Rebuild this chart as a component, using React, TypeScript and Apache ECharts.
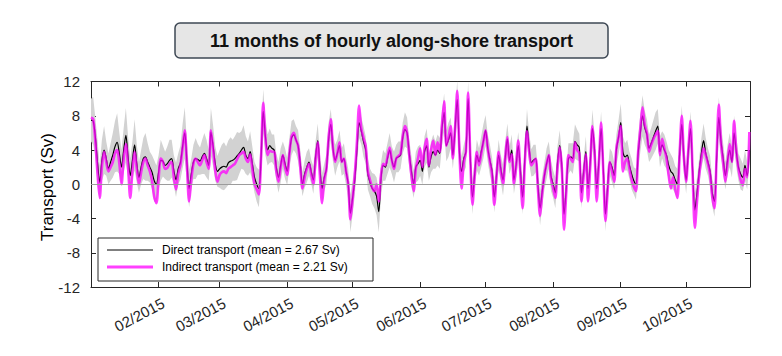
import React, { useEffect, useRef } from "react";
import * as echarts from "echarts";

// ---- data (day index 0 = 01 Jan 2015) ----
const X_MAX = 302.3;
const monthStartDays = [31, 59, 90, 120, 151, 181, 212, 243, 273];
const monthLabels = ["02/2015", "03/2015", "04/2015", "05/2015", "06/2015", "07/2015", "08/2015", "09/2015", "10/2015"];
const LABEL_SHIFT = 2.2;
const Y_MIN = -12;
const Y_MAX = 12;
const Y_STEP = 4;

const titleText = "11 months of hourly along-shore transport";
const yTitle = "Transport (Sv)";
const legendDirect = "Direct transport (mean = 2.67 Sv)";
const legendIndirect = "Indirect transport (mean = 2.21 Sv)";

const indirect = [
  7.8, 7.6, 5.0, 1.2, -1.6, 2.0, 3.8, 2.6, 1.5, 2.0,
  2.6, 3.6, 4.0, 2.4, 0.0, 3.0, 4.7, 2.0, -1.6, 1.5,
  3.8, 1.8, 0.0, 1.4, 2.6, 3.0, 2.2, 1.5, 0.4, -1.5,
  -2.2, 0.6, 3.0, 2.6, 1.8, 1.9, 2.4, 2.6, 0.8, -0.6,
  1.2, 2.2, 4.2, 6.3, 2.2, -2.0, 0.5, 2.4, 3.0, 2.6,
  2.2, 2.8, 3.4, 2.6, 1.8, 6.3, 4.2, 1.6, 0.3, 1.1,
  1.4, 1.5, 1.3, 1.8, 2.0, 2.2, 2.4, 2.9, 3.4, 3.6,
  3.8, 3.0, 2.6, 3.5, 1.8, 0.0, -0.6, -1.2, 3.0, 9.5,
  5.5, 3.4, 3.9, 3.8, 3.8, 1.5, 0.3, 2.0, 3.4, 2.0,
  1.1, 3.5, 5.6, 6.0, 5.2, 4.5, 2.0, -0.5, 0.8, 1.8,
  2.4, 1.2, 0.0, 2.8, 4.9, 1.0, -2.2, 0.5, 1.8, 5.5,
  7.6, 4.2, 2.6, 3.6, 4.9, 2.6, 3.0, 1.5, 0.0, -4.1,
  -1.8, 1.1, 5.0, 9.2, 6.5, 5.4, 4.5, 1.5, 0.5, -0.4,
  -0.8, 0.0, -2.0, 1.0, 2.4, 2.2, 3.2, 4.3, 2.8, 1.8,
  3.0, 3.3, 3.6, 5.6, 6.8, 6.0, 3.4, 1.0, -0.8, 1.8,
  3.0, 4.2, 2.0, 4.2, 5.3, 2.2, 4.0, 5.1, 3.4, 4.9,
  3.8, 7.0, 9.7, 4.5, 5.5, 6.8, 3.0, 6.5, 10.9, 3.8,
  -0.5, 2.5, 3.8, 10.7, 3.0, -2.4, 1.0, 3.8, 2.2, 3.5,
  5.0, 6.3, 4.2, 2.6, 1.1, -2.4, 0.8, 3.8, 1.5, 0.0,
  3.0, 5.5, 2.6, 3.5, 0.0, 2.0, 5.1, 1.0, -2.8, 2.5,
  6.2, 3.8, 2.2, 2.6, 3.0, -0.5, -3.7, -1.0, 1.1, 2.4,
  3.4, 0.7, -0.5, -1.6, 2.0, 4.3, 1.8, -5.3, -1.0, 3.4,
  3.0, 2.6, 4.9, 4.0, 3.6, -2.0, 1.0, 3.5, -2.0, 2.0,
  6.8, 3.8, -2.0, 2.5, 7.2, 1.5, -4.3, -0.8, 2.6, 1.5,
  0.3, 4.2, 5.5, 6.8, 1.5, 2.6, 3.0, 1.8, 0.5, -0.3,
  -0.8, 3.8, 6.5, 9.0, 7.0, 6.0, 3.8, 4.6, 5.3, 5.8,
  6.2, 3.4, 5.3, 4.2, 3.0, 1.0, -0.5, 0.8, -0.6, -1.6,
  3.5, 8.0, 3.0, 0.3, 4.0, 7.4, 1.1, -5.1, -2.0, 1.1,
  3.0, 4.2, 3.4, 2.4, 1.1, -1.5, -2.8, 3.5, 9.3, 4.9,
  2.5, 0.3, 2.5, 4.7, 2.6, 7.4, 4.0, 1.8, 0.5, -0.1,
  1.8, 0.8, 6.1,
];

const direct = [
  7.5, 7.4, 5.5, 2.5, 0.2, 2.8, 4.0, 3.0, 1.8, 2.6,
  3.4, 4.4, 4.9, 3.6, 2.0, 4.0, 5.7, 3.2, 1.0, 2.8,
  4.6, 2.4, 0.8, 2.0, 3.0, 3.2, 2.6, 2.0, 1.4, 0.4,
  0.0, 1.4, 2.8, 2.7, 2.2, 2.4, 2.8, 3.0, 1.6, 0.5,
  1.8, 2.5, 4.4, 6.0, 2.6, -0.5, 1.2, 2.6, 3.0, 2.9,
  2.7, 3.2, 3.6, 3.0, 2.2, 6.1, 4.5, 2.4, 1.5, 1.8,
  2.0, 2.1, 2.0, 2.5, 2.7, 2.8, 3.0, 3.3, 3.6, 4.0,
  4.3, 3.4, 3.0, 3.8, 2.4, 0.8, 0.0, -0.5, 3.0, 8.5,
  5.6, 4.0, 4.5, 4.2, 4.0, 2.0, 0.8, 2.2, 3.4, 2.4,
  1.5, 3.6, 5.4, 5.8, 5.2, 4.5, 2.4, 0.0, 1.2, 2.0,
  2.6, 1.5, 0.5, 3.2, 5.1, 2.0, -0.5, 0.8, 1.8, 5.2,
  7.0, 4.2, 2.8, 3.6, 4.5, 2.6, 3.0, 1.5, 0.0, -3.4,
  -1.6, 0.5, 4.0, 7.2, 6.2, 5.0, 4.0, 1.2, 0.2, -0.5,
  -0.8, -1.4, -3.2, 0.5, 2.2, 2.0, 3.0, 4.0, 2.8, 2.0,
  3.0, 3.2, 3.4, 5.4, 6.4, 6.0, 3.6, 1.5, 0.0, 2.0,
  2.4, 2.8, 1.5, 3.8, 4.5, 2.0, 3.2, 3.8, 3.4, 4.0,
  3.6, 6.5, 8.4, 4.5, 5.2, 6.0, 3.4, 6.5, 9.9, 3.8,
  1.5, 3.0, 3.8, 10.0, 3.0, -1.5, 1.2, 3.4, 2.6, 3.8,
  5.0, 6.3, 4.2, 2.8, 1.5, -1.5, 1.0, 3.4, 1.8, 0.5,
  3.0, 5.3, 2.8, 4.0, 0.5, 2.2, 4.5, 1.5, -1.5, 3.0,
  6.8, 4.2, 2.5, 2.8, 3.0, 0.0, -2.8, -0.8, 1.0, 2.4,
  3.4, 1.0, 0.0, -1.0, 2.5, 4.5, 2.0, -3.5, -0.5, 3.0,
  3.2, 3.0, 5.0, 4.6, 4.3, -1.0, 1.5, 3.8, -0.5, 2.5,
  6.5, 4.0, -0.5, 2.8, 6.5, 1.8, -3.5, -0.3, 2.6, 2.0,
  1.0, 4.0, 5.5, 7.2, 3.8, 3.2, 3.4, 2.2, 1.2, 0.4,
  0.0, 3.6, 6.0, 8.0, 6.6, 5.8, 4.2, 4.8, 5.5, 6.2,
  6.8, 3.8, 4.6, 4.0, 3.4, 2.2, 1.5, 1.2, 0.5, 0.0,
  3.5, 7.0, 3.0, 0.5, 3.8, 6.5, 1.5, -3.0, -1.0, 1.5,
  3.6, 5.1, 3.6, 2.6, 1.5, -1.0, -2.0, 3.0, 7.8, 5.0,
  3.0, 1.0, 2.8, 4.0, 2.6, 6.0, 3.8, 2.0, 1.2, 0.8,
  2.2, 1.0, 4.0,
];

// half-width of the grey spread band around the direct series (Sv)
const spread = [
  2.5, 2.8, 2.2, 2.6, 2.0, 2.4, 2.8, 2.0, 1.8, 2.2,
  2.6, 3.0, 3.4, 2.4, 2.0, 2.6, 3.2, 2.4, 2.0, 2.2,
  3.0, 2.2, 1.8, 2.0, 2.4, 2.8, 2.2, 1.8, 2.0, 2.4,
  2.2, 2.0, 2.4, 1.8, 1.6, 2.0, 2.4, 2.2, 1.8, 2.0,
  1.8, 2.0, 2.6, 3.0, 2.4, 2.2, 1.8, 2.0, 2.4, 1.8,
  1.6, 2.0, 2.4, 2.2, 1.8, 2.8, 2.4, 2.0, 1.8, 2.2,
  2.6, 2.8, 2.4, 2.6, 2.8, 2.4, 2.6, 2.8, 2.4, 2.2,
  2.6, 2.2, 2.0, 2.4, 2.0, 1.8, 2.0, 2.2, 2.4, 2.6,
  2.2, 1.8, 2.0, 1.6, 1.8, 1.6, 1.8, 2.0, 1.6, 1.8,
  1.6, 1.8, 2.0, 1.8, 1.6, 1.8, 1.6, 1.4, 1.6, 1.8,
  1.6, 1.4, 1.6, 1.8, 2.0, 1.6, 1.8, 1.6, 1.8, 2.0,
  1.8, 1.6, 1.8, 1.6, 1.8, 1.6, 1.8, 1.6, 1.8, 2.2,
  2.0, 1.8, 2.0, 1.8, 1.6, 1.8, 1.6, 1.8, 1.6, 1.8,
  2.0, 2.2, 2.4, 2.0, 1.8, 1.6, 1.8, 2.0, 1.6, 1.8,
  1.6, 1.8, 1.6, 1.8, 2.0, 1.8, 1.6, 1.8, 1.6, 1.8,
  2.0, 1.8, 1.6, 1.8, 2.0, 1.6, 1.8, 2.0, 1.6, 1.8,
  1.8, 2.0, 2.2, 1.8, 2.0, 1.8, 1.6, 2.0, 2.2, 2.0,
  1.8, 1.6, 1.8, 2.0, 1.8, 2.0, 1.6, 1.8, 1.6, 1.8,
  2.0, 1.8, 1.6, 1.8, 1.6, 1.8, 1.6, 1.8, 1.6, 1.8,
  2.0, 1.8, 1.6, 1.8, 1.6, 1.8, 1.6, 1.8, 2.0, 1.8,
  2.0, 1.8, 1.6, 1.8, 1.6, 1.8, 2.0, 1.8, 1.6, 1.8,
  1.6, 1.8, 1.6, 1.8, 2.0, 1.8, 1.6, 1.8, 2.0, 1.8,
  1.6, 1.8, 2.0, 1.8, 1.6, 1.8, 1.6, 1.8, 1.6, 2.0,
  2.2, 1.8, 1.6, 1.8, 2.0, 1.8, 2.0, 1.8, 1.6, 1.8,
  1.6, 1.8, 2.0, 2.2, 1.8, 1.6, 1.8, 1.6, 1.8, 1.6,
  1.8, 2.0, 2.2, 2.4, 2.0, 1.8, 1.6, 1.8, 2.0, 2.2,
  2.0, 1.8, 1.6, 1.8, 1.6, 1.8, 2.0, 1.8, 1.6, 1.8,
  2.0, 2.2, 1.8, 1.6, 1.8, 2.0, 1.8, 2.0, 1.8, 1.6,
  1.8, 2.0, 1.8, 1.6, 1.8, 1.6, 1.8, 2.0, 2.4, 2.0,
  1.8, 1.6, 1.8, 2.0, 1.8, 2.0, 1.8, 1.6, 1.8, 1.6,
  1.8, 1.6, 1.8,
];

const FONT = '"Liberation Sans", Arial, Helvetica, sans-serif';
const AXIS = "#262626";

export default function App() {
  const ref = useRef<HTMLDivElement>(null);

  useEffect(() => {
    if (!ref.current) return;
    const chart = echarts.init(ref.current, null, { renderer: "svg" });

    const labelDays = monthStartDays.map((d) => d + LABEL_SHIFT);
    const labelFor = (v: number, idx?: number) => {
      let best = 0;
      let bd = Infinity;
      labelDays.forEach((d, i) => {
        const dd = Math.abs(d - v);
        if (dd < bd) { bd = dd; best = i; }
      });
      return monthLabels[best];
    };

    const xCommon = {
      type: "value",
      min: 0,
      max: X_MAX,
      axisLine: { show: true, onZero: false, lineStyle: { color: AXIS, width: 1 } },
      axisTick: { show: true, inside: true, length: 5, customValues: monthStartDays, lineStyle: { color: AXIS } },
      splitLine: { show: false },
    };
    const yCommon = {
      type: "value",
      min: Y_MIN,
      max: Y_MAX,
      interval: Y_STEP,
      axisLine: { show: true, onZero: false, lineStyle: { color: AXIS, width: 1 } },
      axisTick: { show: true, inside: true, length: 5, lineStyle: { color: AXIS } },
      splitLine: { show: false },
    };

    chart.setOption({
      animation: false,
      grid: { left: 91, top: 81.5, width: 659, height: 205.5, containLabel: false },
      xAxis: [
        {
          ...xCommon,
          position: "bottom",
          axisLabel: {
            show: true,
            customValues: labelDays,
            rotate: 28,
            margin: 15,
            fontSize: 15,
            color: AXIS,
            fontFamily: FONT,
            formatter: (v: number, i: number) => labelFor(v, i),
          },
        },
        { ...xCommon, position: "top", axisLabel: { show: false } },
      ],
      yAxis: [
        {
          ...yCommon,
          position: "left",
          axisLabel: { show: true, margin: 11, fontSize: 15, color: AXIS, fontFamily: FONT },
        },
        { ...yCommon, position: "right", axisLabel: { show: false } },
      ],
      series: [
        {
          type: "custom",
          name: "spread",
          xAxisIndex: 0,
          yAxisIndex: 0,
          data: [[0, 0]],
          silent: true,
          clip: true,
          z: 1,
          renderItem: (params: any, api: any) => {
            const pts: number[][] = [];
            for (let i = 0; i < direct.length; i++) pts.push(api.coord([i, direct[i] + spread[i]]));
            for (let i = direct.length - 1; i >= 0; i--) pts.push(api.coord([i, direct[i] - spread[i]]));
            return {
              type: "polygon",
              shape: { points: pts },
              style: { fill: "#d2d2d2", stroke: "none" },
            };
          },
        },
        {
          type: "line",
          name: "zero",
          data: [],
          silent: true,
          z: 2,
          markLine: {
            silent: true,
            symbol: ["none", "none"],
            label: { show: false },
            lineStyle: { color: "#9c9c9c", width: 1, type: "solid" },
            data: [{ yAxis: 0 }],
          },
        },
        {
          type: "line",
          name: "Direct",
          data: direct.map((v, i) => [i, v]),
          showSymbol: false,
          smooth: 0.3,
          lineStyle: { color: "#000000", width: 1.2 },
          z: 3,
        },
        {
          type: "line",
          name: "Indirect",
          data: indirect.map((v, i) => [i, v]),
          showSymbol: false,
          smooth: 0.3,
          lineStyle: { color: "#ff00ff", width: 2.6, opacity: 0.75 },
          z: 4,
        },
      ],
      graphic: [
        {
          type: "rect",
          z: 100,
          shape: { x: 175, y: 23, width: 433, height: 35, r: 5 },
          style: { fill: "#e6e6e6", stroke: "#3e4854", lineWidth: 1.5 },
        },
        {
          type: "text",
          z: 101,
          x: 391.5,
          y: 41,
          style: {
            text: titleText,
            fontSize: 18,
            fontWeight: "bold",
            fontFamily: FONT,
            fill: "#111111",
            align: "center",
            verticalAlign: "middle",
          },
        },
        {
          type: "text",
          z: 101,
          x: 47,
          y: 187,
          rotation: Math.PI / 2,
          style: {
            text: yTitle,
            fontSize: 17,
            fontFamily: FONT,
            fill: "#000000",
            align: "center",
            verticalAlign: "middle",
          },
        },
        {
          type: "rect",
          z: 100,
          shape: { x: 98, y: 238, width: 275, height: 43 },
          style: { fill: "#ffffff", stroke: AXIS, lineWidth: 1 },
        },
        {
          type: "line",
          z: 101,
          shape: { x1: 107, y1: 250, x2: 153, y2: 250 },
          style: { stroke: "#000000", lineWidth: 1 },
        },
        {
          type: "line",
          z: 101,
          shape: { x1: 107, y1: 267, x2: 153, y2: 267 },
          style: { stroke: "#ff00ff", lineWidth: 3, opacity: 0.75 },
        },
        {
          type: "text",
          z: 101,
          x: 162,
          y: 250,
          style: { text: legendDirect, fontSize: 12, fontFamily: FONT, fill: "#000000", verticalAlign: "middle" },
        },
        {
          type: "text",
          z: 101,
          x: 162,
          y: 267,
          style: { text: legendIndirect, fontSize: 12, fontFamily: FONT, fill: "#000000", verticalAlign: "middle" },
        },
      ],
    });

    return () => chart.dispose();
  }, []);

  return (
    <div
      ref={ref}
      style={{ position: "fixed", left: 0, top: 0, width: 782, height: 356, background: "#ffffff" }}
    />
  );
}
